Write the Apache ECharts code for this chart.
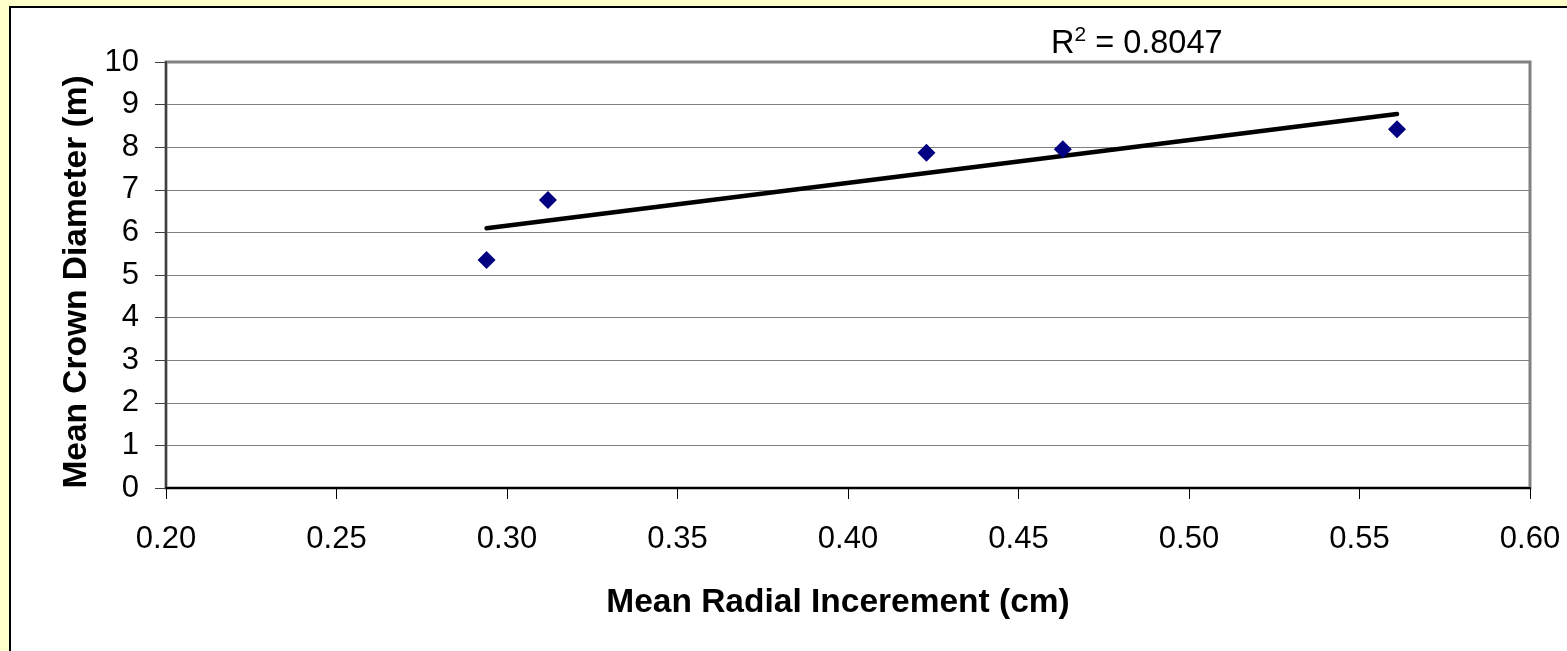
<!DOCTYPE html>
<html>
<head>
<meta charset="utf-8">
<style>
  html, body { margin: 0; padding: 0; background: #FFFFCC; }
  #chart { width: 1567px; height: 651px; }
</style>
<script src="https://cdn.jsdelivr.net/npm/echarts@6/dist/echarts.min.js"></script>
</head>
<body>
<div id="chart"></div>
<script>
// Mean radial increment (cm) vs. mean crown diameter (m)
const radialIncrement = [0.294, 0.312, 0.423, 0.463, 0.561];
const crownDiameter   = [5.35, 6.76, 7.87, 7.95, 8.42];
const rSquaredLabel = '0.8047';
const xTitle = 'Mean Radial Incerement (cm)';
const yTitle = 'Mean Crown Diameter (m)';

// Least-squares linear fit across the observed x range
function linearFit(xs, ys) {
  const n = xs.length;
  const mx = xs.reduce((a, b) => a + b, 0) / n;
  const my = ys.reduce((a, b) => a + b, 0) / n;
  let sxy = 0, sxx = 0;
  for (let i = 0; i < n; i++) {
    sxy += (xs[i] - mx) * (ys[i] - my);
    sxx += (xs[i] - mx) * (xs[i] - mx);
  }
  const slope = sxy / sxx;
  const intercept = my - slope * mx;
  return x => intercept + slope * x;
}
const fit = linearFit(radialIncrement, crownDiameter);
const xMin = Math.min(...radialIncrement);
const xMax = Math.max(...radialIncrement);
const trend = [[xMin, fit(xMin)], [xMax, fit(xMax)]];

const chart = echarts.init(document.getElementById('chart'), null, { renderer: 'canvas' });
const font = '"Liberation Sans", Arial, sans-serif';

chart.setOption({
  backgroundColor: '#FFFFCC',
  animation: false,
  textStyle: { fontFamily: font },
  graphic: [
    {
      type: 'rect',
      z: -10,
      shape: { x: 10, y: 7, width: 1700, height: 800 },
      style: { fill: '#FFFFFF', stroke: '#000000', lineWidth: 2 }
    },
    {
      type: 'text',
      left: 1051,
      top: 25,
      style: {
        text: '{a|R}{s|2}{a| = ' + rSquaredLabel + '}',
        rich: {
          a: { fontSize: 32.5, fontFamily: font, fill: '#000', verticalAlign: 'bottom', lineHeight: 36 },
          s: { fontSize: 21, fontFamily: font, fill: '#000', verticalAlign: 'top', lineHeight: 36, padding: [0, 0, 14, 0] }
        }
      }
    }
  ],
  grid: {
    left: 166, right: 37, top: 62, bottom: 163,
    show: true,
    backgroundColor: '#FFFFFF',
    borderColor: '#808080',
    borderWidth: 3
  },
  xAxis: {
    type: 'value',
    min: 0.2, max: 0.6, interval: 0.05,
    name: xTitle,
    nameLocation: 'middle',
    nameGap: 98,
    nameTextStyle: { fontSize: 33.5, fontWeight: 'bold', color: '#000', fontFamily: font, padding: [0, 20, 0, 0] },
    axisLine: { show: true, onZero: false, lineStyle: { color: '#000', width: 2 } },
    axisTick: { show: true, inside: false, length: 11, lineStyle: { color: '#000', width: 1 } },
    axisLabel: { fontSize: 31, color: '#000', margin: 36, fontFamily: font, formatter: v => v.toFixed(2) },
    splitLine: { show: false }
  },
  yAxis: {
    type: 'value',
    min: 0, max: 10, interval: 1,
    name: yTitle,
    nameLocation: 'middle',
    nameGap: 70,
    nameTextStyle: { fontSize: 33.5, fontWeight: 'bold', color: '#000', fontFamily: font, padding: [0, 14, 0, 0] },
    axisLine: { show: true, onZero: false, lineStyle: { color: '#404040', width: 2 } },
    axisTick: { show: true, inside: false, length: 11, lineStyle: { color: '#404040', width: 1 } },
    axisLabel: { fontSize: 31, color: '#000', margin: 27, fontFamily: font },
    splitLine: { show: true, lineStyle: { color: '#808080', width: 1 } }
  },
  series: [
    {
      name: 'Trend',
      type: 'line',
      data: trend,
      symbol: 'none',
      lineStyle: { color: '#000', width: 4.5, cap: 'round' },
      z: 2
    },
    {
      name: 'Observed',
      type: 'scatter',
      data: radialIncrement.map((x, i) => [x, crownDiameter[i]]),
      symbol: 'diamond',
      symbolSize: [18, 18],
      itemStyle: { color: '#000080', opacity: 1 },
      z: 3
    }
  ]
});
</script>
</body>
</html>
